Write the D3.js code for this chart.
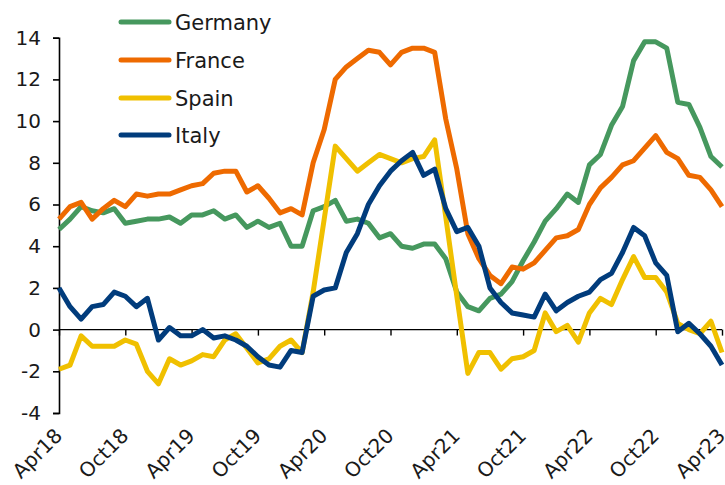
<!DOCTYPE html>
<html>
<head>
<meta charset="utf-8">
<script src="https://cdn.jsdelivr.net/npm/d3@7"></script>
<style>
  html, body { margin: 0; padding: 0; background: #fff; }
  svg { display: block; }
  text { font-family: "DejaVu Sans", sans-serif; fill: #1a1a1a; }
</style>
</head>
<body>
<svg id="chart" width="725" height="485"></svg>
<script>
// Monthly, Apr 2018 .. Apr 2023 (61 months)
const months = d3.range(61);
const tickMonths = [0, 6, 12, 18, 24, 30, 36, 42, 48, 54, 60];
const tickLabels = ["Apr18","Oct18","Apr19","Oct19","Apr20","Oct20","Apr21","Oct21","Apr22","Oct22","Apr23"];
const yTicks = [-4, -2, 0, 2, 4, 6, 8, 10, 12, 14];

const germany = [4.8,5.3,5.9,5.7,5.6,5.8,5.1,5.2,5.3,5.3,5.4,5.1,5.5,5.5,5.7,5.3,5.5,4.9,5.2,4.9,
  5.1,4.0,4.0,5.7,5.9,6.2,5.2,5.3,5.1,4.4,4.6,4.0,3.9,4.1,4.1,3.4,1.8,1.1,0.9,1.5,
  1.7,2.3,3.3,4.2,5.2,5.8,6.5,6.1,7.9,8.4,9.8,10.7,12.9,13.8,13.8,13.5,10.9,10.8,9.7,8.3,7.8];
const france = [5.3,5.9,6.1,5.3,5.8,6.2,5.9,6.5,6.4,6.5,6.5,6.7,6.9,7.0,7.5,7.6,7.6,6.6,6.9,6.3,
  5.6,5.8,5.5,8.0,9.6,12.0,12.6,13.0,13.4,13.3,12.7,13.3,13.5,13.5,13.3,10.1,7.7,4.6,3.4,2.6,
  2.2,3.0,2.9,3.2,3.8,4.4,4.5,4.8,6.0,6.8,7.3,7.9,8.1,8.7,9.3,8.5,8.2,7.4,7.3,6.7,5.9];
const spain = [-1.9,-1.7,-0.3,-0.8,-0.8,-0.8,-0.5,-0.7,-2.0,-2.6,-1.4,-1.7,-1.5,-1.2,-1.3,-0.5,-0.2,-0.9,-1.6,-1.4,
  -0.8,-0.5,-1.1,1.8,5.3,8.8,8.2,7.6,8.0,8.4,8.2,8.0,8.2,8.3,9.1,5.4,1.6,-2.1,-1.1,-1.1,
  -1.9,-1.4,-1.3,-1.0,0.8,-0.1,0.2,-0.6,0.8,1.5,1.2,2.4,3.5,2.5,2.5,1.8,0.3,0.0,-0.2,0.4,-1.1];
const italy = [2.0,1.1,0.5,1.1,1.2,1.8,1.6,1.1,1.5,-0.5,0.1,-0.3,-0.3,0.0,-0.4,-0.3,-0.5,-0.8,-1.3,-1.7,
  -1.8,-1.0,-1.1,1.6,1.9,2.0,3.7,4.6,6.0,6.9,7.6,8.1,8.5,7.4,7.7,5.8,4.7,4.9,4.0,2.0,
  1.3,0.8,0.7,0.6,1.7,0.9,1.3,1.6,1.8,2.4,2.7,3.7,4.9,4.5,3.2,2.6,-0.1,0.3,-0.2,-0.8,-1.7];

const seriesNames = ["Germany", "France", "Spain", "Italy"];
const seriesValues = [germany, france, spain, italy];
const seriesColors = ["#46985E", "#EE6A00", "#F0C000", "#013C7C"];

const svg = d3.select("#chart");
const x = d3.scaleLinear().domain([0, 60]).range([59, 722]);
const y = d3.scaleLinear().domain([-4, 14]).range([413, 37.7]);

// Y axis
const yAxis = svg.append("g")
  .attr("transform", `translate(${x(0)},0)`)
  .call(d3.axisLeft(y).tickValues(yTicks).tickSize(6).tickPadding(12)
    .tickFormat(d => String(d)));
yAxis.select(".domain").attr("stroke", "#000").attr("stroke-width", 1.6);
yAxis.selectAll(".tick line").attr("stroke", "#000").attr("stroke-width", 1.6);
yAxis.selectAll("text").attr("font-size", 20).attr("font-family", "DejaVu Sans").attr("fill", "#1a1a1a");

// X axis at zero line
const y0 = y(0);
const xAxis = svg.append("g")
  .attr("transform", `translate(0,${y0})`)
  .call(d3.axisBottom(x).tickValues(tickMonths).tickSize(6)
    .tickFormat((d, i) => tickLabels[i]));
xAxis.select(".domain").attr("stroke", "#000").attr("stroke-width", 1.4)
  .attr("d", `M${x(0)},0H${x(60)}`);
xAxis.selectAll(".tick line").attr("stroke", "#000").attr("stroke-width", 1.4);
xAxis.selectAll("text")
  .attr("font-size", 20).attr("font-family", "DejaVu Sans").attr("fill", "#1a1a1a")
  .attr("text-anchor", "end")
  .attr("y", 0).attr("dy", 0)
  .attr("transform", `translate(4,${437 - y0}) rotate(-45)`);

// Lines
const line = d3.line().x((d, i) => x(months[i])).y(d => y(d));
seriesValues.forEach((vals, k) => {
  svg.append("path")
    .datum(vals)
    .attr("d", line)
    .attr("fill", "none")
    .attr("stroke", seriesColors[k])
    .attr("stroke-width", 5)
    .attr("stroke-linejoin", "round")
    .attr("stroke-linecap", "butt");
});

// Legend
const legendY = [22, 60, 98, 135];
const leg = svg.append("g");
seriesNames.forEach((name, k) => {
  leg.append("line")
    .attr("x1", 121).attr("x2", 169)
    .attr("y1", legendY[k]).attr("y2", legendY[k])
    .attr("stroke", seriesColors[k]).attr("stroke-width", 5)
    .attr("stroke-linecap", "round");
  leg.append("text")
    .attr("x", 175).attr("y", legendY[k]).attr("dy", "0.36em")
    .attr("font-size", 21)
    .text(name);
});
</script>
</body>
</html>
